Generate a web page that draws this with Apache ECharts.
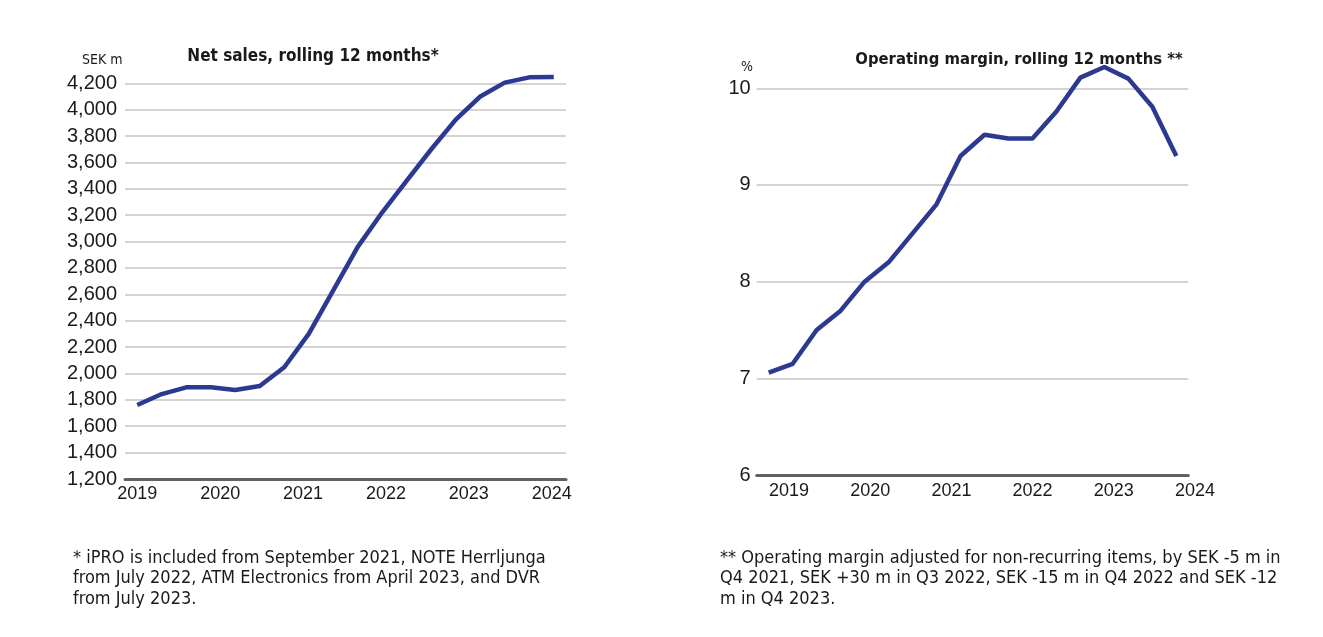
<!DOCTYPE html>
<html>
<head>
<meta charset="utf-8">
<script src="https://cdn.jsdelivr.net/npm/echarts@6/dist/echarts.min.js"></script>
<style>
html,body{margin:0;padding:0;background:#fff;}
#c{width:1323px;height:637px;}
</style>
</head>
<body>
<div id="c"></div>
<script>
var quarters = ['Q3 2019','Q4 2019','Q1 2020','Q2 2020','Q3 2020','Q4 2020','Q1 2021','Q2 2021','Q3 2021','Q4 2021','Q1 2022','Q2 2022','Q3 2022','Q4 2022','Q1 2023','Q2 2023','Q3 2023','Q4 2023'];
var netSales = [1761, 1844, 1895, 1895, 1875, 1905, 2047, 2300, 2630, 2960, 3222, 3462, 3700, 3925, 4100, 4205, 4245, 4248];
var opMargin = [7.06, 7.15, 7.5, 7.7, 8.0, 8.2, 8.5, 8.8, 9.3, 9.52, 9.48, 9.48, 9.76, 10.11, 10.22, 10.1, 9.81, 9.3];
var yearLabels = ['2019','2020','2021','2022','2023','2024'];
var leftTitle = 'Net sales, rolling 12 months*';
var rightTitle = 'Operating margin, rolling 12 months **';
var leftUnit = 'SEK m';
var rightUnit = '%';
var leftNote = '* iPRO is included from September 2021, NOTE Herrljunga\nfrom July 2022, ATM Electronics from April 2023, and DVR\nfrom July 2023.';
var rightNote = '** Operating margin adjusted for non-recurring items, by SEK -5 m in\nQ4 2021, SEK +30 m in Q3 2022, SEK -15 m in Q4 2022 and SEK -12\nm in Q4 2023.';

var lineColor = '#2b3990';
var gridColor = '#c6c6c6';
var baseColor = '#616161';
var txt = '#1a1a1a';
var narrow = '"Liberation Sans Narrow", "DejaVu Sans Condensed", "Liberation Sans", sans-serif';
var sans = '"Liberation Sans", Arial, sans-serif';

var chart = echarts.init(document.getElementById('c'));
chart.setOption({
  backgroundColor: '#fff',
  animation: false,
  title: [
    {text: leftTitle, left: 313, top: 48, textAlign: 'center', padding: 0,
     textStyle: {fontFamily: narrow, fontWeight: 'bold', fontSize: 17, color: txt}},
    {text: rightTitle, left: 1019, top: 51, textAlign: 'center', padding: 0,
     textStyle: {fontFamily: narrow, fontWeight: 'bold', fontSize: 16.5, color: txt}},
    {text: leftUnit, left: 82, top: 53, padding: 0,
     textStyle: {fontFamily: narrow, fontWeight: 'normal', fontSize: 14, color: txt}},
    {text: rightUnit, left: 741, top: 60, padding: 0,
     textStyle: {fontFamily: narrow, fontWeight: 'normal', fontSize: 14, color: txt}},
    {text: leftNote, left: 73, top: 548, padding: 0,
     textStyle: {fontFamily: narrow, fontWeight: 'normal', fontSize: 18, lineHeight: 20.5, color: txt}},
    {text: rightNote, left: 720, top: 548, padding: 0,
     textStyle: {fontFamily: narrow, fontWeight: 'normal', fontSize: 18, lineHeight: 20.5, color: txt}}
  ],
  grid: [
    {left: 125, top: 83.3, width: 441, height: 395.7},
    {left: 756.7, top: 88.3, width: 431.6, height: 386.7},
    {left: 137.3, top: 83.3, width: 414.4, height: 395.7},
    {left: 789, top: 88.3, width: 406, height: 386.7}
  ],
  xAxis: [
    {type: 'category', gridIndex: 0, data: quarters, boundaryGap: true,
     axisLine: {show: true, lineStyle: {color: baseColor, width: 3}},
     axisTick: {show: false}, axisLabel: {show: false}, splitLine: {show: false}},
    {type: 'category', gridIndex: 1, data: quarters, boundaryGap: true,
     axisLine: {show: true, lineStyle: {color: baseColor, width: 3}},
     axisTick: {show: false}, axisLabel: {show: false}, splitLine: {show: false}},
    {type: 'category', gridIndex: 2, data: yearLabels, boundaryGap: false,
     axisLine: {show: false}, axisTick: {show: false}, splitLine: {show: false},
     axisLabel: {show: true, interval: 0, margin: 6, fontFamily: sans, fontSize: 18, color: txt}},
    {type: 'category', gridIndex: 3, data: yearLabels, boundaryGap: false,
     axisLine: {show: false}, axisTick: {show: false}, splitLine: {show: false},
     axisLabel: {show: true, interval: 0, margin: 7, fontFamily: sans, fontSize: 18, color: txt}}
  ],
  yAxis: [
    {type: 'value', gridIndex: 0, min: 1200, max: 4200, interval: 200,
     axisLine: {show: false}, axisTick: {show: false},
     splitLine: {show: true, lineStyle: {color: gridColor, width: 1.5}},
     axisLabel: {margin: 8, fontFamily: sans, fontSize: 20, color: txt,
       formatter: function(v){ return v.toLocaleString('en-US'); }}},
    {type: 'value', gridIndex: 1, min: 6, max: 10, interval: 1,
     axisLine: {show: false}, axisTick: {show: false},
     splitLine: {show: true, lineStyle: {color: gridColor, width: 1.5}},
     axisLabel: {margin: 6, fontFamily: sans, fontSize: 20, color: txt}},
    {type: 'value', gridIndex: 2, show: false},
    {type: 'value', gridIndex: 3, show: false}
  ],
  series: [
    {type: 'line', xAxisIndex: 0, yAxisIndex: 0, data: netSales, clip: false,
     symbol: 'none', smooth: false, lineStyle: {color: lineColor, width: 4.5}},
    {type: 'line', xAxisIndex: 1, yAxisIndex: 1, data: opMargin, clip: false,
     symbol: 'none', smooth: false, lineStyle: {color: lineColor, width: 4.5}}
  ]
});
</script>
</body>
</html>
